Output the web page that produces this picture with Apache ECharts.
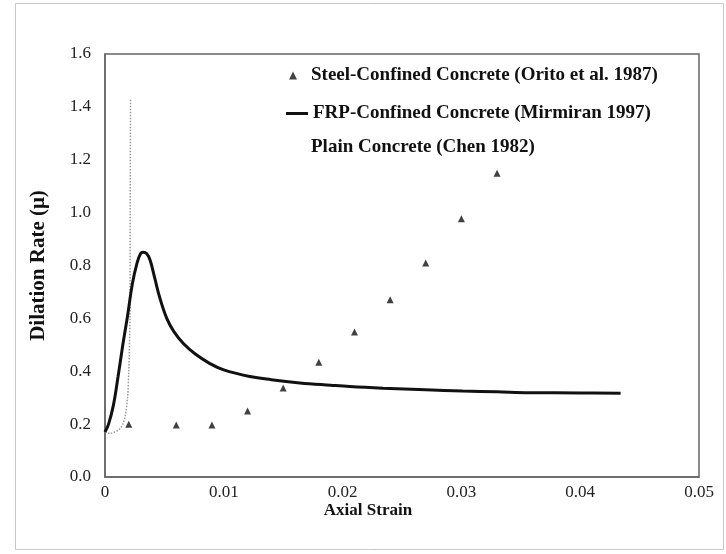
<!DOCTYPE html>
<html>
<head>
<meta charset="utf-8">
<script src="https://cdn.jsdelivr.net/npm/echarts@6/dist/echarts.min.js"></script>
<style>html,body{margin:0;padding:0;background:#fff;}#c{width:726px;height:554px;}</style>
</head>
<body>
<div id="c"></div>
<script>
// Steel-Confined Concrete (Orito et al. 1987)
var oritoStrain = [0.002, 0.006, 0.009, 0.012, 0.015, 0.018, 0.021, 0.024, 0.027, 0.030, 0.033];
var oritoRate   = [0.20, 0.197, 0.197, 0.25, 0.337, 0.434, 0.548, 0.67, 0.809, 0.977, 1.149];
// FRP-Confined Concrete (Mirmiran 1997)
var frpStrain = [0, 0.0003, 0.0007, 0.0011, 0.0015, 0.0019, 0.0023, 0.0027, 0.0030, 0.0032, 0.0035, 0.0038, 0.0042, 0.0046, 0.0052, 0.0058, 0.0066, 0.0076, 0.0088, 0.0100, 0.0122, 0.0140, 0.0164, 0.0190, 0.0206, 0.0234, 0.0270, 0.0301, 0.0330, 0.0358, 0.0400, 0.0434];
var frpRate   = [0.17, 0.20, 0.27, 0.38, 0.50, 0.61, 0.73, 0.81, 0.845, 0.85, 0.845, 0.82, 0.75, 0.68, 0.60, 0.55, 0.505, 0.465, 0.43, 0.405, 0.38, 0.368, 0.356, 0.347, 0.342, 0.336, 0.330, 0.325, 0.322, 0.319, 0.318, 0.317];
// Plain Concrete (Chen 1982)
var chenStrain = [0, 0.0004, 0.0008, 0.0012, 0.0015, 0.0017, 0.0019, 0.0020, 0.0021, 0.00212, 0.00215];
var chenRate   = [0.17, 0.165, 0.17, 0.18, 0.20, 0.23, 0.30, 0.40, 0.60, 1.00, 1.43];

var yTicks = [0, 0.2, 0.4, 0.6, 0.8, 1.0, 1.2, 1.4, 1.6];
var xTicks = [0, 0.01, 0.02, 0.03, 0.04, 0.05];

var nOrito = 'Steel-Confined Concrete (Orito et al. 1987)';
var nFrp = 'FRP-Confined Concrete (Mirmiran 1997)';
var nChen = 'Plain Concrete (Chen 1982)';

function pairs(xs, ys) { return xs.map(function (x, i) { return [x, ys[i]]; }); }

var serif = "'Liberation Serif', 'Times New Roman', serif";
var legendText = {fontFamily: serif, fontWeight: 'bold', fontSize: 19, color: '#111'};
var chart = echarts.init(document.getElementById('c'), null, {renderer: 'canvas'});
chart.setOption({
  backgroundColor: '#fff',
  animation: false,
  graphic: [{
    type: 'rect', left: 13, top: 1,
    shape: {width: 708, height: 546},
    style: {fill: 'none', stroke: '#c8c8c8', lineWidth: 1}
  }],
  grid: {left: 105, top: 54, right: 27, bottom: 77, show: true, borderColor: '#666', borderWidth: 1.5},
  legend: [
    {left: 289, top: 66, padding: 0, itemWidth: 8, itemHeight: 8,
      textStyle: Object.assign({padding: [0, 0, 0, 9]}, legendText),
      data: [{name: nOrito, icon: 'triangle'}]},
    {left: 286, top: 104, padding: 0, itemWidth: 22, itemHeight: 3,
      textStyle: legendText,
      data: [{name: nFrp, icon: 'rect', itemStyle: {color: '#111'}}]},
    {left: 285, top: 138, padding: 0, itemWidth: 21, itemHeight: 14,
      textStyle: legendText,
      data: [{name: nChen, icon: 'rect', itemStyle: {opacity: 0}, lineStyle: {opacity: 0}}]}
  ],
  xAxis: {
    type: 'value', min: xTicks[0], max: xTicks[xTicks.length - 1], interval: 0.01,
    name: 'Axial Strain', nameLocation: 'middle', nameGap: 25, nameMoveOverlap: false,
    nameTextStyle: {fontFamily: serif, fontWeight: 'bold', fontSize: 17, color: '#111', padding: [0, 68, 0, 0]},
    axisLine: {lineStyle: {color: '#666', width: 1.5}},
    axisTick: {show: false},
    splitLine: {show: false},
    axisLabel: {fontFamily: serif, fontSize: 17, color: '#222', margin: 7,
      formatter: function (v) { return v === 0 ? '0' : String(+v.toFixed(2)); }}
  },
  yAxis: {
    type: 'value', min: yTicks[0], max: yTicks[yTicks.length - 1], interval: 0.2,
    name: 'Dilation Rate (\u03bc)', nameLocation: 'middle', nameGap: 56, nameRotate: 90,
    nameTextStyle: {fontFamily: serif, fontWeight: 'bold', fontSize: 21, color: '#111'},
    axisLine: {lineStyle: {color: '#666', width: 1.5}},
    axisTick: {show: false},
    splitLine: {show: false},
    axisLabel: {fontFamily: serif, fontSize: 17, color: '#222', margin: 14,
      formatter: function (v) { return v.toFixed(1); }}
  },
  series: [
    {
      name: nOrito, type: 'scatter',
      symbol: 'triangle', symbolSize: 7, itemStyle: {color: '#111'},
      data: pairs(oritoStrain, oritoRate), z: 5
    },
    {
      name: nFrp, type: 'line', smooth: 0.4, symbol: 'none',
      lineStyle: {color: '#111', width: 3}, itemStyle: {color: '#111'},
      data: pairs(frpStrain, frpRate), z: 4
    },
    {
      name: nChen, type: 'line', smooth: 0.3, symbol: 'none',
      lineStyle: {color: '#999', width: 1.5, type: 'dotted'}, itemStyle: {color: '#ccc'},
      data: pairs(chenStrain, chenRate), z: 3
    }
  ]
});
</script>
</body>
</html>
